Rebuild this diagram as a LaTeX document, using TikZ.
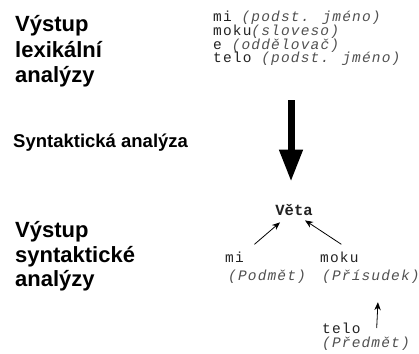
\documentclass[tikz,border=0pt]{standalone}
\usepackage{fontspec}
\usetikzlibrary{arrows.meta}
\newfontfamily\hfont{Liberation Sans}
\newfontfamily\cfont{Liberation Mono}[LetterSpace=8]
\newfontfamily\vfont{Liberation Mono}
\definecolor{codecol}{HTML}{222222}
\definecolor{notecol}{HTML}{505050}
\begin{document}
\begin{tikzpicture}[x=1pt,y=-1pt,
  head/.style={anchor=base west, inner sep=0pt, font=\hfont\bfseries\fontsize{22}{26}\selectfont},
  subhead/.style={anchor=base west, inner sep=0pt, font=\hfont\bfseries\fontsize{18.5}{20}\selectfont},
  code/.style={anchor=base west, inner sep=0pt, text=codecol, font=\cfont\fontsize{14.5}{15}\selectfont},
  bigarrow/.style={line width=7pt, -{Triangle[width=22pt,length=32pt]}},
  thinarrow/.style={line width=0.8pt, -{Stealth[length=8pt,width=6.5pt]}}]
\newcommand{\nt}[1]{{\color{notecol}\itshape #1}}
\useasboundingbox (0,0) rectangle (419,353);
% left headings
\node[head] (h1) at (15,32) {Výstup};
\node[head] (h2) at (15,57) {lexikální};
\node[head] (h3) at (15,82) {analýzy};
\node[subhead] (sa) at (13,147) {Syntaktická analýza};
\node[head] (h4) at (15,237) {Výstup};
\node[head] (h5) at (15,262) {syntaktické};
\node[head] (h6) at (15,286) {analýzy};
% lexical output
\node[code] (l1) at (213,21.5) {mi \nt{(podst. jméno)}};
\node[code] (l2) at (213,35.3) {moku\nt{(sloveso)}};
\node[code] (l3) at (213,49) {e \nt{(oddělovač)}};
\node[code] (l4) at (213,62.8) {telo \nt{(podst. jméno)}};
% syntax tree
\node[code, anchor=base, font=\vfont\bfseries\fontsize{15.5}{16}\selectfont] (veta) at (294,215) {Věta};
\node[code] (mi) at (225,262) {mi};
\node[code] (podmet) at (228,280) {\nt{(Podmět)}};
\node[code] (moku) at (320,262) {moku};
\node[code] (prisudek) at (322,280) {\nt{(Přísudek)}};
\node[code] (telo) at (322,333) {telo};
\node[code] (predmet) at (322,347) {\nt{(Předmět)}};
% arrows
\coordinate (ts) at (291,100);
\draw[bigarrow] (ts) -- ([shift={(-3,-22)}]veta.north);
\draw[thinarrow] ([shift={(20,-7)}]mi.north) -- ([shift={(-14,7)}]veta.south);
\draw[thinarrow] ([shift={(2,-7)}]moku.north) -- ([shift={(11,5)}]veta.south);
\draw[thinarrow] ([shift={(16,-5)}]telo.base east) -- ([shift={(7,19)}]prisudek.south);
\end{tikzpicture}
\end{document}
